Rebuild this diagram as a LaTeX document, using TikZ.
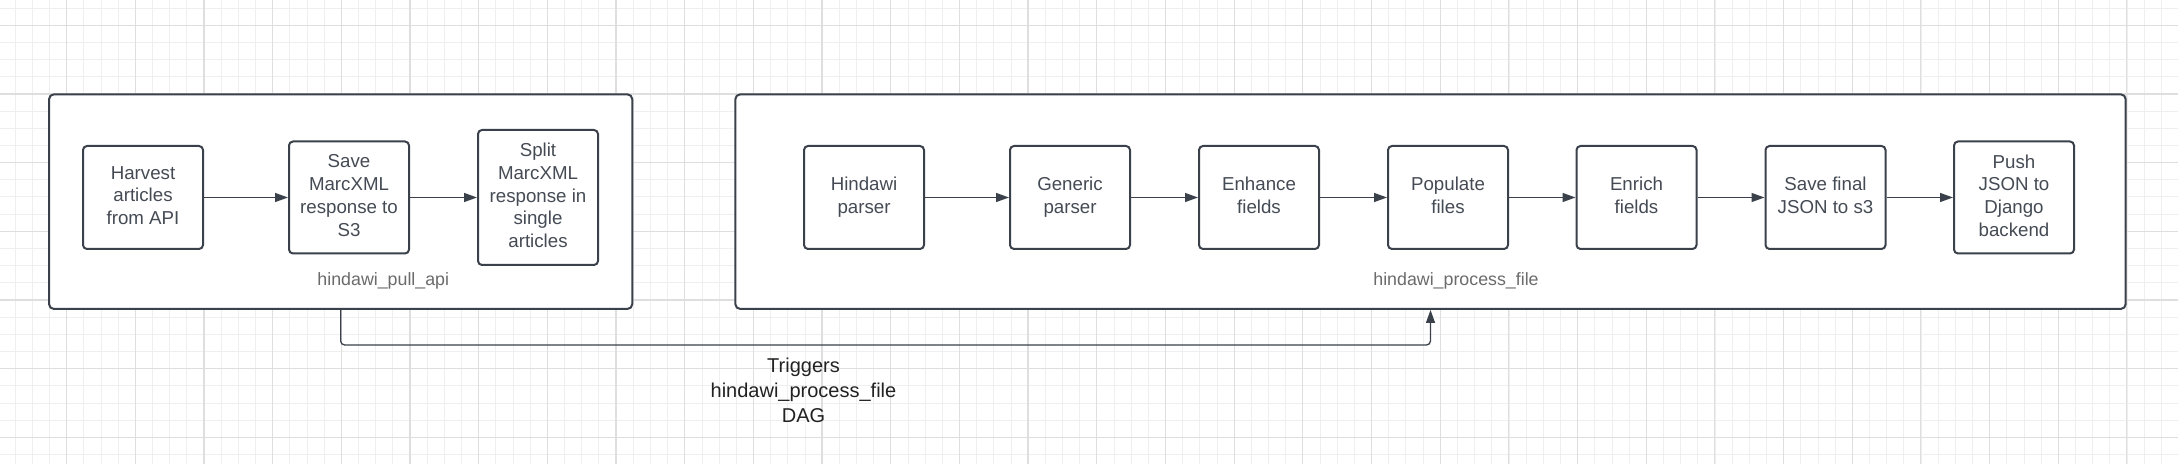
\documentclass[tikz,border=0pt]{standalone}
\usepackage{fontspec}
\setmainfont{Liberation Sans}
\usetikzlibrary{arrows.meta}
\definecolor{lineC}{HTML}{3A414A}
\definecolor{nodetxt}{HTML}{454B54}
\definecolor{lbltxt}{HTML}{6B6B6B}
\definecolor{trigtxt}{HTML}{222222}
\definecolor{gridminor}{HTML}{EFEFEF}
\definecolor{gridmajor}{HTML}{DEDEDE}
\tikzset{
  gminor/.style={draw=gridminor, line width=0.5pt},
  gmajor/.style={draw=gridmajor, line width=0.6pt},
  container/.style={draw=lineC, fill=white, line width=1pt, rounded corners=2.5pt, inner sep=0pt},
  stepbox/.style={draw=lineC, fill=white, line width=1pt, rounded corners=2pt,
    minimum width=60pt, align=center, inner sep=0pt, text=nodetxt,
    font=\fontsize{9.35pt}{11.35pt}\selectfont,
    execute at begin node={\rule{0pt}{0.905em}},
    execute at end node={\rule[-0.212em]{0pt}{0.212em}}},
  boxlabel/.style={text=lbltxt, inner sep=0pt, font=\fontsize{8.9pt}{11pt}\selectfont},
  triglabel/.style={text=trigtxt, align=center, inner sep=0pt, font=\fontsize{10pt}{12.5pt}\selectfont},
  flow/.style={draw=lineC, line width=0.65pt, -{Triangle[length=6.5pt,width=4.5pt]}},
}
\begin{document}
\begin{tikzpicture}[x=0.5pt,y=-0.5pt]
\useasboundingbox (0,0) rectangle (2178,464);
\fill[white] (0,0) rectangle (2178,464);
% grid
\foreach \i in {0,...,126} {\draw[gminor] ({15.2+17.17*\i},0) -- ({15.2+17.17*\i},464);}
\foreach \i in {0,...,26} {\draw[gminor] (0,{8.1+17.17*\i}) -- (2178,{8.1+17.17*\i});}
\foreach \i in {0,...,31} {\draw[gmajor] ({66.7+68.67*\i},0) -- ({66.7+68.67*\i},464);}
\foreach \i in {0,...,6} {\draw[gmajor] (0,{25.3+68.67*\i}) -- (2178,{25.3+68.67*\i});}

% containers
\node[container, minimum width=291.65pt, minimum height=107.35pt] (box1) at (340.65,201.65) {};
\node[container, minimum width=695.2pt, minimum height=107.35pt] (box2) at (1430.5,201.65) {};
\node[boxlabel] (lbl1) at (383.3,281) {hindawi\_pull\_api};
\node[boxlabel] (lbl2) at (1456,281) {hindawi\_process\_file};

% steps of the first DAG
\node[stepbox, minimum height=51.5pt] (harvest) at (143,197.5) {Harvest\\articles\\from API};
\node[stepbox, minimum height=56pt] (save) at (349,197.5) {Save\\MarcXML\\response to\\S3};
\node[stepbox, minimum height=67.5pt] (split) at (538,197.5) {Split\\MarcXML\\response in\\single\\articles};

% steps of the second DAG
\node[stepbox, minimum height=51.5pt] (hparser) at (864,197.5) {Hindawi\\parser};
\node[stepbox, minimum height=51.5pt] (generic) at (1070,197.5) {Generic\\parser};
\node[stepbox, minimum height=51.5pt] (enhance) at (1259,197.5) {Enhance\\fields};
\node[stepbox, minimum height=51.5pt] (populate) at (1448,197.5) {Populate\\files};
\node[stepbox, minimum height=51.5pt] (enrich) at (1636.5,197.5) {Enrich\\fields};
\node[stepbox, minimum height=51.5pt] (savefinal) at (1825.5,197.5) {Save final\\JSON to s3};
\node[stepbox, minimum height=56pt] (push) at (2014,197.5) {Push\\JSON to\\Django\\backend};

% arrows
\draw[flow] (harvest) -- (save);
\draw[flow] (save) -- (split);
\draw[flow] (hparser) -- (generic);
\draw[flow] (generic) -- (enhance);
\draw[flow] (enhance) -- (populate);
\draw[flow] (populate) -- (enrich);
\draw[flow] (enrich) -- (savefinal);
\draw[flow] (savefinal) -- (push);

% trigger connector
\draw[flow, rounded corners=2pt] (box1.south) -- ++(0,35) -| (box2.south);
\node[triglabel] (trig) at (803.5,390) {Triggers\\hindawi\_process\_file\\DAG};
\end{tikzpicture}
\end{document}
